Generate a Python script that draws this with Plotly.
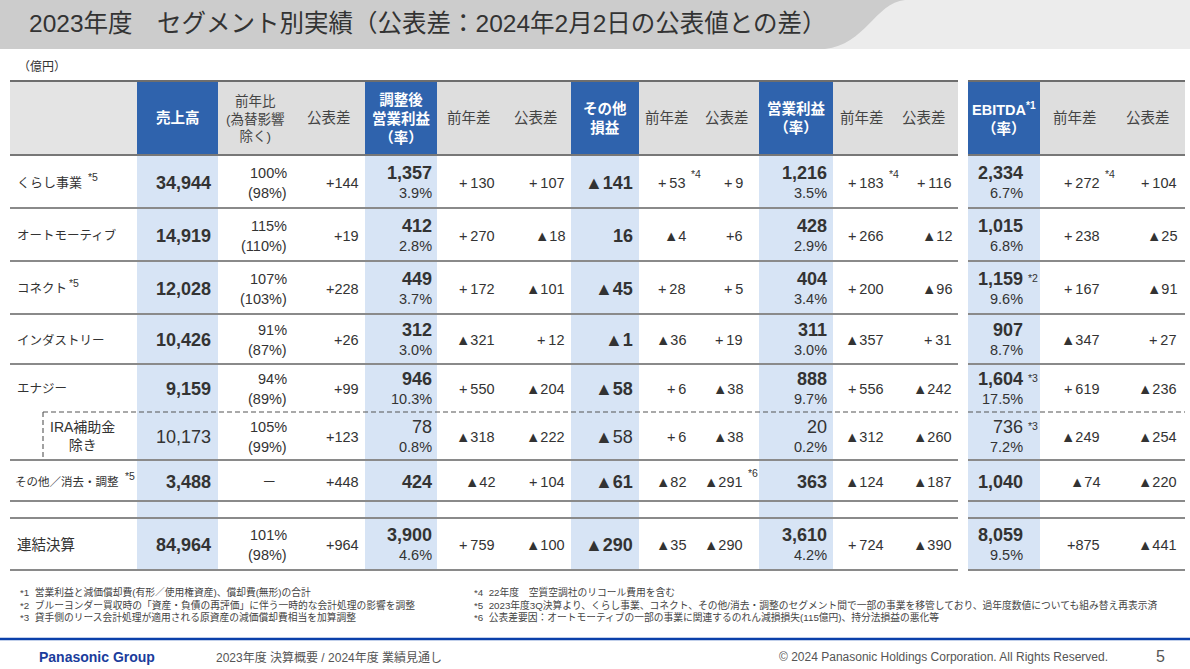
import plotly.graph_objects as go

W, H = 1190, 669

# ---------------- data ----------------
segments = ["くらし事業", "オートモーティブ", "コネクト", "インダストリー", "エナジー",
            "IRA補助金<br>除き", "その他／消去・調整", "連結決算"]
segment_notes = ["*5", "", "*5", "", "", "", "*5", ""]
sales = [34944, 14919, 12028, 10426, 9159, 10173, 3488, 84964]
sales_yoy_pct = [100, 115, 107, 91, 94, 105, None, 101]
sales_yoy_fx_pct = [98, 110, 103, 87, 89, 99, None, 98]
sales_vs_plan = [144, 19, 228, 26, 99, 123, 448, 964]
adj_op = [1357, 412, 449, 312, 946, 78, 424, 3900]
adj_op_rate = [3.9, 2.8, 3.7, 3.0, 10.3, 0.8, None, 4.6]
adj_op_yoy = [130, 270, 172, -321, 550, -318, -42, 759]
adj_op_vs_plan = [107, -18, -101, 12, -204, -222, 104, -100]
other_pl = [-141, 16, -45, -1, -58, -58, -61, -290]
other_pl_yoy = [53, -4, 28, -36, 6, 6, -82, -35]
other_pl_vs_plan = [9, 6, 5, 19, -38, -38, -291, -290]
op_income = [1216, 428, 404, 311, 888, 20, 363, 3610]
op_rate = [3.5, 2.9, 3.4, 3.0, 9.7, 0.2, None, 4.2]
op_yoy = [183, 266, 200, -357, 556, -312, -124, 724]
op_vs_plan = [116, -12, -96, 31, -242, -260, -187, -390]
ebitda = [2334, 1015, 1159, 907, 1604, 736, 1040, 8059]
ebitda_rate = [6.7, 6.8, 9.6, 8.7, 17.5, 7.2, None, 9.5]
ebitda_yoy = [272, 238, 167, -347, 619, -249, -74, 875]
ebitda_vs_plan = [104, -25, -91, 27, -236, -254, -220, -441]

# cell footnote markers: (column key, row index) -> marker
cell_notes = {("other_pl_yoy", 0): "*4", ("op_yoy", 0): "*4", ("ebitda_yoy", 0): "*4",
              ("other_pl_vs_plan", 6): "*6", ("ebitda", 2): "*2",
              ("ebitda", 4): "*3", ("ebitda", 5): "*3"}

title = "2023年度　セグメント別実績（公表差：2024年2月2日の公表値との差）"
unit_label = "（億円）"
footnotes_left = ["*1  営業利益と減価償却費(有形／使用権資産)、償却費(無形)の合計",
                  "*2  ブルーヨンダー買収時の「資産・負債の再評価」に伴う一時的な会計処理の影響を調整",
                  "*3  貸手側のリース会計処理が適用される原資産の減価償却費相当を加算調整"]
footnotes_right = ["*4  22年度　空質空調社のリコール費用を含む",
                   "*5  2023年度3Q決算より、くらし事業、コネクト、その他/消去・調整のセグメント間で一部の事業を移管しており、過年度数値についても組み替え再表示済",
                   "*6  公表差要因：オートモーティブの一部の事業に関連するのれん減損損失(115億円)、持分法損益の悪化等"]
footer_brand = "Panasonic Group"
footer_doc = "2023年度 決算概要 / 2024年度 業績見通し"
footer_copy = "© 2024 Panasonic Holdings Corporation. All Rights Reserved."
page_no = "5"

# ---------------- style / geometry ----------------
FONT = "Liberation Sans, Arial, Noto Sans CJK JP, sans-serif"
TXT = "#333333"
BLUE_HEAD = "#2f63ad"
BLUE_COL = "#d7e4f5"
GRAY_HEAD = "#dedede"
LINE = "#8a8a8a"

row_top = [155, 208, 261, 314, 364, 412, 460, 518]
row_bot = [208, 261, 314, 364, 412, 460, 501, 570]
label_sizes = [13, 12.5, 12.5, 12.5, 12.5, 14, 11.5, 14.5]
head_top, head_bot = 81, 155
tables = [(10, 958), (968, 1185)]


def fmt_num(v):
    return ("▲" if v < 0 else "") + f"{abs(v):,}"


def fmt_diff(v, tight=False):
    if v is None:
        return "－"
    if v < 0:
        return "▲" + f"{abs(v):,}"
    return ("+" if tight else "+\u2009") + f"{v:,}"


def est_width(s, size):
    return sum(size if ord(ch) > 0x2000 else 0.55 * size for ch in s)


# column spec: key, x0, x1, right edge of text, header, blue?, kind
columns = [
    ("sales", 137, 218, 213, "売上高", True, "main"),
    ("sales_yoy", 218, 292, 289, "前年比<br>(為替影響<br>除く)", False, "pct"),
    ("sales_vs_plan", 292, 365, 361, "公表差", False, "diff_tight"),
    ("adj_op", 365, 437, 434, "調整後<br>営業利益<br>（率）", True, "main_rate"),
    ("adj_op_yoy", 437, 500, 497, "前年差", False, "diff"),
    ("adj_op_vs_plan", 500, 571, 567, "公表差", False, "diff"),
    ("other_pl", 571, 639, 635, "その他<br>損益", True, "main"),
    ("other_pl_yoy", 639, 695, 688, "前年差", False, "diff"),
    ("other_pl_vs_plan", 695, 759, 745, "公表差", False, "diff"),
    ("op", 759, 833, 829, "営業利益<br>（率）", True, "main_rate"),
    ("op_yoy", 833, 890, 886, "前年差", False, "diff"),
    ("op_vs_plan", 890, 958, 954, "公表差", False, "diff"),
    ("ebitda", 968, 1040, 1025, "EBITDA<sup>*1</sup><br>（率）", True, "main_rate"),
    ("ebitda_yoy", 1040, 1110, 1102, "前年差", False, "diff"),
    ("ebitda_vs_plan", 1110, 1185, 1179, "公表差", False, "diff"),
]
values = {"sales": (sales, None), "sales_yoy": (sales_yoy_pct, sales_yoy_fx_pct),
          "sales_vs_plan": (sales_vs_plan, None), "adj_op": (adj_op, adj_op_rate),
          "adj_op_yoy": (adj_op_yoy, None), "adj_op_vs_plan": (adj_op_vs_plan, None),
          "other_pl": (other_pl, None), "other_pl_yoy": (other_pl_yoy, None),
          "other_pl_vs_plan": (other_pl_vs_plan, None), "op": (op_income, op_rate),
          "op_yoy": (op_yoy, None), "op_vs_plan": (op_vs_plan, None),
          "ebitda": (ebitda, ebitda_rate), "ebitda_yoy": (ebitda_yoy, None),
          "ebitda_vs_plan": (ebitda_vs_plan, None)}

shapes = []
ann = []


def rect(x0, y0, x1, y1, color):
    shapes.append(dict(type="rect", xref="x", yref="y", x0=x0, x1=x1, y0=y0, y1=y1,
                       fillcolor=color, line=dict(width=0), layer="below"))


def hline(x0, x1, y, color=LINE, width=1.6, dash="solid"):
    shapes.append(dict(type="line", xref="x", yref="y", x0=x0, x1=x1, y0=y, y1=y,
                       line=dict(color=color, width=width, dash=dash)))


def text(x, y, s, size=14, color=TXT, anchor="center", bold=False, family=FONT):
    ann.append(dict(x=x, y=y, xref="x", yref="y", text=s, showarrow=False,
                    xanchor=anchor, yanchor="middle", align=anchor if anchor != "center" else "center",
                    font=dict(size=size, color=color, family=family,
                              weight="bold" if bold else "normal")))


DASH = "5px,3px"

# title band
rect(0, 0, W, 49, "#ececec")
shapes.append(dict(type="path", xref="x", yref="y",
                   path="M 0 0 L 905 0 C 875 3, 865 45, 825 49 L 0 49 Z",
                   fillcolor="#cccccc", line=dict(width=0), layer="below"))
text(27, 23, title, size=24.5, color="#333333", anchor="left",
     family="Liberation Sans, Noto Sans CJK JP, sans-serif")
text(16, 67, unit_label, size=12, anchor="left")

# header backgrounds
for tx0, tx1 in tables:
    rect(tx0, head_top, tx1, head_bot, GRAY_HEAD)
rect(10, head_top, 137, head_bot, "#e4e4e4")
for key, x0, x1, xr, head, blue, kind in columns:
    if blue:
        rect(x0, head_top, x1, head_bot, BLUE_HEAD)
        rect(x0, head_bot, x1, row_bot[-1], BLUE_COL)
        text((x0 + x1) / 2, 118, head, size=14.5, color="white", bold=True)
    else:
        sz = 13.5 if "<br>" in head else 14.5
        text((x0 + x1) / 2, 118, head, size=sz, color="#444444")

# horizontal rules
for tx0, tx1 in tables:
    hline(tx0, tx1, head_top, color="#6e6e6e", width=2)
    hline(tx0, tx1, head_bot, color="#777777", width=2)
    for i in range(len(segments)):
        y = row_bot[i]
        if i == 4:
            hline(max(tx0, 43), tx1, y, color="#555555", width=1.1, dash=DASH)
        else:
            hline(tx0, tx1, y, width=1.8)
    hline(tx0, tx1, row_top[-1], width=1.8)
shapes.append(dict(type="line", xref="x", yref="y", x0=43, x1=43, y0=row_top[5], y1=row_bot[5],
                   line=dict(color="#555555", width=1.1, dash=DASH)))

# row labels
for i, seg in enumerate(segments):
    mid = (row_top[i] + row_bot[i]) / 2
    sz = label_sizes[i]
    if i == 5:
        text(82, mid, seg, size=sz)
        continue
    x_lab = 13 if i == 6 else 15
    text(x_lab, mid + 1, seg, size=sz, anchor="left")
    if segment_notes[i]:
        gap = 2 if i == 2 else 6
        text(x_lab + est_width(seg, sz) + gap, mid - 5, segment_notes[i], size=10.5, anchor="left")

# cells
for key, x0, x1, xr, head, blue, kind in columns:
    main, sub = values[key]
    for i in range(len(segments)):
        mid = (row_top[i] + row_bot[i]) / 2
        v = main[i]
        s2 = None
        if kind == "main":
            s1, size, bold = fmt_num(v), 18, i != 5
        elif kind == "main_rate":
            s1, size, bold = fmt_num(v), 18, i != 5
            if sub[i] is not None:
                s2 = f"{sub[i]:.1f}%"
        elif kind == "pct":
            if v is None:
                s1, size, bold = "－", 14.5, False
            else:
                s1, size, bold = f"{v}%", 14.5, False
                s2 = f"({sub[i]}%)"
        elif kind == "diff_tight":
            s1, size, bold = fmt_diff(v, tight=True), 14.5, False
        else:
            tight = (key == "other_pl_vs_plan" and i == 1) or (key == "ebitda_yoy" and i == 7)
            s1, size, bold = fmt_diff(v, tight=tight), 14.5, False
        if s2 is not None:
            y1, y2 = mid - 9, mid + 11
            text(xr, y1, s1, size=size, anchor="right", bold=bold)
            text(xr, y2, s2, size=14.5, anchor="right")
        else:
            y1 = mid + 1
            xx = xr - 10 if kind == "pct" else xr
            text(xx, y1, s1, size=size, anchor="right", bold=bold)
        nt = cell_notes.get((key, i))
        if nt:
            if kind == "main_rate":
                text(xr + 1, y1 - 1, nt, size=10.5, anchor="left")
            else:
                text(xr + 1, y1 - 9, nt, size=10.5, anchor="left")

# footnotes
for j, s in enumerate(footnotes_left):
    text(18, 592 + 12.5 * j, s, size=9.75, color="#444444", anchor="left")
for j, s in enumerate(footnotes_right):
    text(472, 592 + 12.5 * j, s, size=9.75, color="#444444", anchor="left")

# footer
shapes.append(dict(type="line", xref="x", yref="y", x0=0, x1=W, y0=639, y1=639,
                   line=dict(color="#0a40aa", width=2.5)))
text(37, 657, footer_brand, size=14, color="#1a3c9c", anchor="left", bold=True)
text(214, 657, footer_doc, size=12, color="#555555", anchor="left")
text(1110, 657, footer_copy, size=12, color="#555555", anchor="right")
text(1160, 656, page_no, size=16, color="#555555")

fig = go.Figure()
fig.add_trace(go.Scatter(x=[0, W], y=[0, H], mode="markers", marker=dict(opacity=0),
                         hoverinfo="skip", showlegend=False))
fig.update_layout(
    width=W, height=H, margin=dict(l=0, r=0, t=0, b=0),
    paper_bgcolor="white", plot_bgcolor="white",
    xaxis=dict(range=[0, W], visible=False, fixedrange=True),
    yaxis=dict(range=[H, 0], visible=False, fixedrange=True),
    shapes=shapes, annotations=ann, showlegend=False,
)
fig.write_html("out.html", config={"displayModeBar": False},
               post_script="document.body.style.margin='0';document.body.style.overflow='hidden';")
